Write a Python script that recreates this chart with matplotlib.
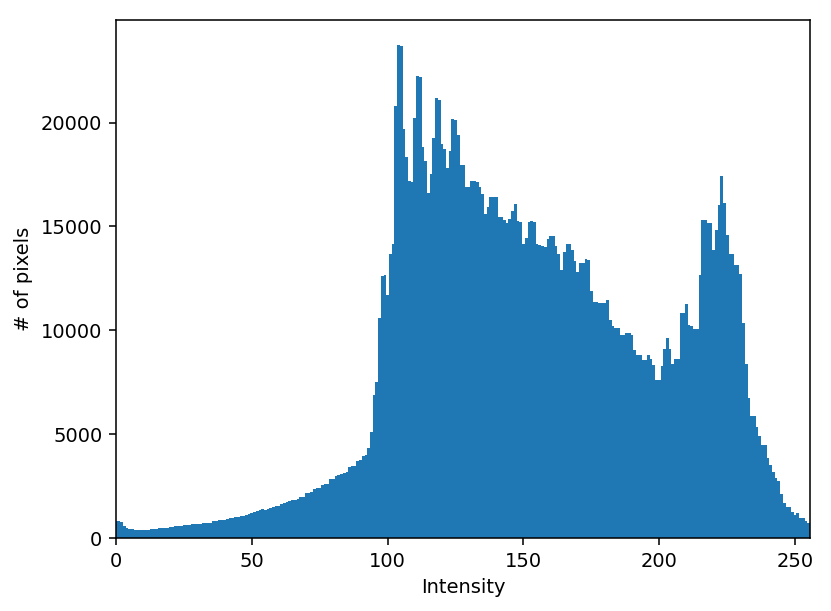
import numpy as np
import matplotlib
matplotlib.use("Agg")
import matplotlib.pyplot as plt

# pixel counts per intensity level (0..255)
counts = [
    820, 810, 760, 575, 500, 450, 410, 395, 375, 370, 385, 390, 400, 420, 440, 450,
    460, 470, 485, 500, 510, 540, 565, 580, 600, 610, 620, 640, 660, 665, 680, 690,
    700, 710, 720, 745, 810, 815, 860, 865, 880, 905, 975, 980, 990, 1025, 1040, 1060,
    1110, 1150, 1190, 1250, 1280, 1330, 1385, 1360, 1400, 1430, 1480, 1540, 1560, 1630, 1680, 1750,
    1780, 1830, 1845, 1880, 1960, 1990, 2150, 2180, 2200, 2350, 2390, 2400, 2560, 2600, 2620, 2820,
    2850, 2990, 3030, 3060, 3150, 3180, 3420, 3460, 3490, 3720, 3760, 3940, 3980, 4310, 5110, 6870,
    7510, 10580, 12600, 12650, 11700, 13650, 14170, 20820, 23750, 23700, 19700, 18330, 17210, 17150, 20220, 22260,
    22200, 18810, 18170, 16620, 17530, 19250, 21170, 21100, 18980, 18740, 17820, 18610, 20150, 20100, 19380, 17980,
    17950, 16890, 16900, 17180, 17200, 17150, 16890, 16540, 15610, 15930, 16410, 16420, 16400, 15450, 15440, 15320,
    15160, 15370, 15720, 16090, 15240, 15230, 14170, 14440, 15230, 15240, 15220, 14170, 14100, 14040, 14030, 14380,
    14540, 14530, 14040, 13690, 12920, 13770, 14140, 14130, 13880, 13330, 12800, 13240, 13250, 13410, 13400, 11890,
    11360, 11350, 11310, 11300, 11320, 11440, 10510, 10210, 10130, 10120, 9760, 9750, 9870, 9860, 9760, 9040,
    8830, 8820, 8590, 8580, 8800, 8610, 8320, 7630, 7620, 8280, 9090, 9630, 9120, 8400, 8610, 8600,
    10850, 10840, 11280, 10240, 10230, 10050, 10040, 12680, 15290, 15300, 15160, 15150, 13850, 14810, 16040, 17450,
    16140, 14570, 13690, 13680, 13130, 13120, 12730, 10370, 8400, 6760, 5870, 5860, 5320, 4900, 4500, 4490,
    3860, 3510, 3190, 2870, 2760, 2100, 1700, 1510, 1500, 1270, 1110, 1190, 950, 940, 820, 720,
]
levels = np.arange(256)

fig = plt.figure(figsize=(831/140, 611/140), dpi=140)
ax = fig.add_axes([116/831, 1 - 538/611, 694/831, 518/611])

# one bar per level, centred on the integer intensity
ax.bar(levels, counts, width=1.0, color="#1f77b4")
ax.set_xlim(0, 255.5)
ax.set_xticks([0, 50, 100, 150, 200, 250])
ax.set_yticks([0, 5000, 10000, 15000, 20000])
ax.set_xlabel("Intensity")
ax.set_ylabel("# of pixels")

fig.savefig("out.png", dpi=140)
plt.close(fig)
